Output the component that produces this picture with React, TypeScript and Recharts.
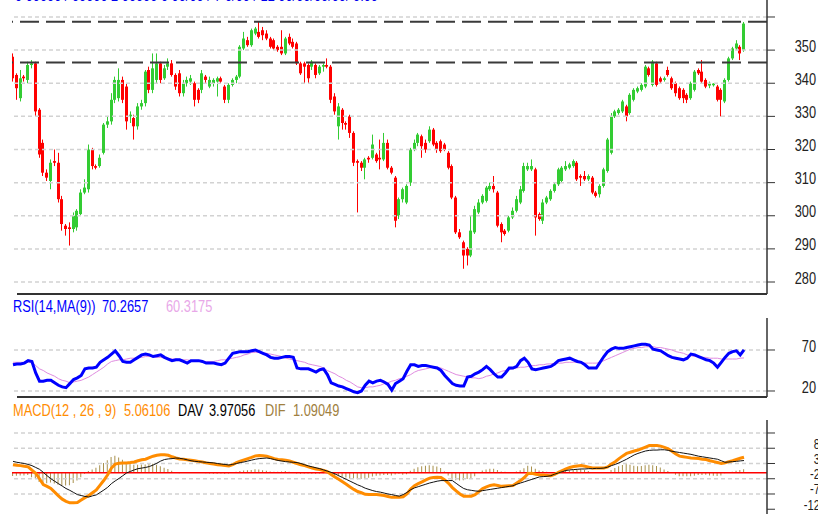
import { Bar, ComposedChart, Line, ReferenceLine, XAxis, YAxis } from 'recharts';

const FONT = "'Liberation Sans', Arial, sans-serif";
const RED = '#ff0000';
const GREEN = '#33cc33';
const GRID = '#d2d2d2';
const AXIS = '#333333';

// daily candles, oldest first
const opens = [
  348, 342.5, 335.5, 342, 341, 345.5, 346, 332, 322, 313,
  310.5, 316.5, 316, 305, 297, 296.5, 296, 296.5, 300.5, 307,
  308, 320, 315, 315, 319, 327.5, 328.5, 335, 335.5, 341,
  339, 330, 329.5, 327, 333, 334, 344, 338, 341, 346,
  341.5, 345, 346, 342.5, 343, 337, 340, 340.5, 340, 338,
  338, 342, 339, 340, 340.5, 341.5, 339, 335, 339.5, 341,
  342, 350.5, 353, 351.5, 355, 355.5, 356, 355, 353.5, 353,
  351, 351, 349, 354, 352.5, 352, 346, 346, 345.5, 345,
  345.5, 343, 345, 345.5, 345, 336, 327, 332, 328, 330,
  325, 316.5, 316, 314.5, 317.5, 317.5, 318.5, 317.5, 317, 322,
  314.5, 311.5, 300, 305, 304, 310, 320, 322, 324, 322,
  322.5, 326, 322, 322.5, 321.5, 319, 315, 305.5, 295, 292,
  290, 288, 295, 301, 304, 304.5, 308, 309, 307, 297.5,
  295.5, 295.5, 299.5, 301.5, 304, 307.5, 314, 314, 314, 300.5,
  298.5, 304, 305, 307.5, 309.5, 310.5, 314, 314.5, 315, 316,
  312, 312, 311, 311.5, 307, 306.5, 309, 313.5, 319, 330,
  331, 331.5, 333, 331, 335, 337.5, 338, 339, 344.5, 339.5,
  346, 341.5, 341, 344, 341.5, 340, 338.5, 338, 336.5, 335.5,
  338, 344, 343.5, 341, 339.3, 339.4, 339, 338, 334.5, 341,
  347.5, 350.5, 351, 350,
];
const highs = [
  349, 343, 344, 342.5, 346.5, 347, 346.5, 332.5, 323, 314,
  317, 320, 319, 306, 297.5, 298, 301, 302, 308, 311,
  321.5, 320.5, 315.5, 318.5, 328, 330, 337, 342, 344.5, 342,
  340, 331.5, 330.5, 334, 335, 344, 345, 349, 349, 346.5,
  345.5, 347.5, 347, 343, 344, 341, 342, 342.5, 340.5, 338.5,
  344, 342.5, 342, 341.5, 342, 342, 339.5, 340, 341.5, 342.5,
  351.5, 355.5, 354, 356.5, 357, 358.5, 357, 356, 354, 353.5,
  351.5, 356, 354, 355, 353.5, 352.5, 346.5, 346.5, 346, 347,
  346, 345.5, 346, 347.5, 345.5, 337, 334, 332.5, 328.5, 330.5,
  325.5, 317, 316.5, 317.5, 318, 324.5, 319, 323, 325, 323,
  315, 312, 305.5, 308.5, 309.5, 320.5, 323, 325, 324.5, 323,
  327, 326.5, 322.5, 323, 322, 319.5, 315.5, 306, 296, 292.5,
  290.5, 300, 303, 305, 306.5, 309, 310, 312, 307.5, 298,
  296, 300, 302.5, 306, 309, 316, 316, 317, 314.5, 301,
  305, 306, 308, 310, 314.5, 315, 316.5, 316, 317, 316.5,
  312.5, 313.5, 312.5, 312, 307.5, 309.5, 314.5, 323.5, 331, 332,
  332.5, 335, 333.5, 337, 338.5, 339, 340, 345.5, 345, 347,
  346.5, 342, 342, 345, 342, 340.5, 339, 338.5, 337, 340.5,
  344, 344.5, 347, 341.5, 340.5, 340, 339.5, 338.5, 341.5, 348,
  351, 353, 351.5, 358.5,
];
const lows = [
  340.5, 335, 334.5, 340.5, 340, 344.5, 330, 317.5, 312, 310.5,
  308, 315, 304, 295.5, 294, 291, 295, 295.5, 300, 306.5,
  307, 314, 314, 314.5, 318.5, 326.5, 327.5, 334, 334.5, 334,
  326, 328, 323, 326, 332, 333, 337, 337, 340, 340,
  341, 344, 342, 338, 336, 336, 339, 339.5, 333, 334,
  337, 340, 338.5, 339, 336, 340, 334, 334, 339, 340,
  341.5, 350, 351, 351, 354.5, 353.5, 353, 353, 350.5, 350,
  349.5, 348.5, 348.5, 351.5, 350.5, 345.5, 342.5, 340, 340, 344,
  341.5, 342.5, 343.5, 344.5, 334, 330.5, 323, 326, 326, 323.5,
  315, 301, 313.5, 311, 316, 317, 316, 314, 316.5, 314,
  312.5, 296.5, 299, 304, 303.5, 309, 319.5, 321, 317.5, 319,
  322, 321, 319, 319, 319.5, 314, 305, 294.5, 293, 284,
  285, 287.5, 294.5, 300.5, 303.5, 304, 307.5, 307, 296.5, 292,
  294, 295, 299, 301, 303.5, 307, 313.5, 313.5, 294, 298.5,
  297.5, 303.5, 304.5, 307, 309, 310, 313.5, 314, 314.5, 310.5,
  309, 310.5, 310.5, 306.5, 305.5, 305.5, 308.5, 313, 318.5, 329.5,
  330.5, 331, 328.5, 330.5, 334.5, 337, 337.5, 338.5, 342, 339,
  339, 340, 340.5, 342, 338, 336, 335, 334, 334, 335,
  337.5, 342.5, 340, 338.5, 338.5, 339, 334.5, 330, 334, 340.5,
  347, 350, 347, 349.5,
];
const closes = [
  341.5, 338.5, 341.5, 341.5, 345.5, 346, 331.5, 318.5, 313, 311.5,
  316, 316, 305, 297.5, 296, 296, 300, 301.5, 307, 308.5,
  320, 315, 314.5, 317.5, 327.5, 328.5, 335, 341, 341, 335,
  328.5, 330.5, 327, 333, 334, 343.5, 338, 344.5, 346, 341,
  344.5, 346, 342.5, 339, 337, 340, 341, 341.5, 335, 335,
  343, 341, 341, 341, 341.5, 340.5, 335, 339.5, 341, 342,
  351, 353.5, 351.5, 356, 356.5, 354, 354.5, 353.5, 351, 350.5,
  350, 349, 353.5, 352, 351, 346, 343, 345, 341.5, 346.5,
  342.5, 345, 345.5, 345, 335, 331.5, 333, 328, 327.5, 325,
  316, 316, 314.5, 317, 317, 321.5, 316.5, 317, 322, 314.5,
  313, 298.5, 305, 308, 309, 320, 322, 324.5, 321, 320,
  326, 321.5, 320, 319.5, 320, 314.5, 305.5, 295, 293.5, 288,
  288, 295.5, 302, 304, 306, 308.5, 309, 308, 297, 295,
  294.5, 299.5, 301.5, 305, 308, 315, 315, 315, 299.5, 299,
  304, 305.5, 307.5, 309.5, 314, 314.5, 315, 315.5, 316.5, 311,
  311.5, 311, 312, 307, 306, 309, 314, 323, 330, 331.5,
  332, 334.5, 330, 336.5, 338, 338.5, 339.5, 345, 342.5, 346.5,
  339.5, 340.5, 341.5, 342.5, 338.5, 337, 335.5, 335.5, 335, 340,
  343.5, 343, 340.5, 339, 339.8, 339.9, 335, 335, 341, 347.5,
  350.5, 352, 349, 358,
];

const rsi = [
  52, 53, 53, 54, 57, 56, 42, 32, 32, 33,
  33, 30, 27, 25, 24, 29, 34, 36, 39, 47,
  48, 48, 49, 55, 58, 61, 65, 69, 63, 56,
  55, 55, 58, 61, 64, 65, 64, 62, 63, 64,
  61, 59, 57, 58, 58, 56, 54, 57, 57, 57,
  56, 54, 54, 54, 53, 52, 54, 60, 66, 67,
  68, 68, 68, 69, 70, 68, 66, 64, 61, 60,
  60, 61, 62, 62, 61, 48, 47, 47, 47, 45,
  43, 46, 47, 40, 30, 28, 26, 25, 23, 21,
  19, 18, 20, 27, 32, 30, 32, 33, 31, 28,
  21, 29, 32, 35, 44, 52, 52, 50, 51, 51,
  50, 49, 48, 45, 39, 34, 29, 27, 26, 26,
  37, 38, 41, 43, 46, 50, 46, 41, 37, 37,
  42, 48, 48, 50, 57, 60, 55, 47, 46, 47,
  48, 49, 50, 53, 57, 58, 59, 60, 58, 56,
  55, 52, 48, 48, 48, 55, 62, 68, 71, 73,
  72, 72, 73, 74, 75, 76, 77, 77, 76, 71,
  70, 69, 66, 63, 61, 60, 59, 58, 60, 65,
  64, 62, 60, 58, 57, 54, 49, 55, 61, 66,
  68, 69, 64, 70.27,
];
const rsiMa = [
  55, 55, 55, 55, 55, 55, 51, 47, 45, 42,
  40, 38, 35, 33, 32, 30, 31, 32, 33, 35,
  37, 40, 43, 46, 49, 53, 56, 57, 58, 58,
  59, 60, 60, 61, 61, 62, 62, 62, 61, 61,
  60, 60, 59, 59, 58, 58, 58, 57, 57, 57,
  56, 56, 56, 56, 57, 58, 58, 59, 60, 61,
  62, 64, 65, 67, 67, 67, 66, 66, 65, 64,
  63, 62, 60, 59, 58, 57, 56, 55, 53, 52,
  51, 50, 48, 45, 43, 41, 38, 36, 33, 31,
  28, 25, 24, 24, 25, 25, 26, 27, 29, 30,
  32, 33, 35, 36, 38, 40, 43, 45, 46, 47,
  48, 49, 49, 48, 46, 44, 42, 40, 39, 38,
  37, 36, 36, 35, 36, 38, 39, 41, 42, 44,
  45, 46, 47, 48, 49, 49, 50, 51, 51, 52,
  52, 53, 53, 54, 54, 54, 55, 55, 55, 55,
  55, 54, 54, 54, 54, 55, 57, 59, 61, 63,
  65, 67, 69, 71, 72, 73, 73, 74, 74, 74,
  73, 73, 72, 71, 70, 68, 67, 66, 64, 63,
  62, 62, 61, 61, 60, 60, 60, 59, 59, 59,
  59, 59, 60, 60.32,
];

const macd = [
  2.6, 2.4, 2.3, 2.1, 1.9, 0.8, -0.2, -2, -3.9, -4.5,
  -5.2, -6.4, -7.6, -8.7, -9.4, -9.9, -9.9, -9.8, -9, -8.2,
  -7.5, -6.6, -5.7, -4.1, -2.5, -0.7, 1.5, 2.8, 3.1, 3.2,
  3.2, 3.3, 3.5, 3.9, 4.2, 4.4, 4.9, 5.4, 5.7, 5.9,
  5.9, 5.7, 5.2, 4.8, 4.5, 4.4, 4.2, 4.1, 3.9, 3.7,
  3.5, 3.2, 3, 2.8, 2.6, 2.5, 2.3, 2.2, 2.6, 3.3,
  3.8, 4.2, 4.6, 5, 5.5, 5.6, 5.5, 5.4, 5, 4.6,
  4.3, 4.2, 4.1, 3.8, 3.4, 3, 2.6, 2.3, 1.9, 1.5,
  1.2, 1, 0.7, 0.3, -0.6, -1.4, -2.2, -3, -3.8, -4.7,
  -5.5, -6.2, -6.6, -7.1, -7.2, -7.2, -7.2, -7.3, -7.5, -7.8,
  -8.1, -8.1, -8.1, -7.9, -7, -5.4, -4.3, -3.6, -3, -2.4,
  -1.8, -1.6, -1.5, -1.6, -2.4, -3.5, -4.9, -6, -7, -7.7,
  -7.7, -7.7, -7.2, -6.2, -5.2, -4.7, -4.2, -4, -4.2, -4.5,
  -4.4, -4.3, -4.2, -3.4, -2.6, -1.6, -0.3, -0.2, -0.5, -0.7,
  -0.8, -0.9, -1, -0.6, 0.1, 0.7, 1.2, 1.7, 2, 2.2,
  2.3, 2.1, 1.8, 1.5, 1.5, 1.5, 1.5, 1.9, 2.8, 3.6,
  4.6, 5.5, 6.3, 6.7, 7.1, 7.4, 7.9, 8.4, 8.9, 8.9,
  8.9, 8.7, 8.3, 7.8, 7, 6.1, 5.4, 5.2, 5, 4.8,
  4.7, 4.6, 4.4, 4.3, 3.9, 3.6, 3.3, 3, 3.2, 3.6,
  3.9, 4.3, 4.7, 5.06,
];
const dav = [
  3.7, 3.4, 3.2, 3, 2.7, 2.3, 1.7, 1.1, 0.1, -1,
  -2, -2.8, -3.6, -4.4, -5.2, -5.8, -6.5, -7.2, -7.5, -7.8,
  -8, -7.6, -7.3, -6.5, -5.7, -4.8, -3.6, -2.7, -1.9, -1,
  -0.1, 0.4, 0.9, 1.3, 1.5, 1.7, 2, 2.5, 3.1, 3.8,
  4.3, 4.5, 4.6, 4.8, 4.7, 4.5, 4.2, 3.9, 3.7, 3.6,
  3.5, 3.4, 3.3, 3.2, 3, 2.8, 2.7, 2.5, 2.7, 3,
  3.3, 3.5, 3.8, 4.1, 4.4, 4.6, 4.7, 4.8, 4.6, 4.3,
  4, 3.8, 3.6, 3.5, 3.4, 3.3, 3, 2.6, 2.2, 1.9,
  1.6, 1.3, 0.9, 0.5, 0.1, -0.4, -1, -1.6, -2.2, -2.8,
  -3.4, -4, -4.5, -5.1, -5.5, -5.9, -6.2, -6.4, -6.7, -7,
  -7.2, -7.5, -7.7, -7.2, -6.5, -5.6, -5, -4.6, -4.2, -3.8,
  -3.4, -3.1, -2.8, -2.6, -2.6, -2.6, -2.6, -3.5, -4.4, -5.2,
  -5.6, -5.8, -6, -6.1, -5.9, -5.7, -5.5, -5.3, -5.1, -4.9,
  -4.7, -4.5, -4.3, -3.8, -3.4, -3, -2.6, -2.2, -1.8, -1.4,
  -1.3, -1.2, -1, -0.5, -0.1, 0.3, 0.7, 0.9, 1, 1.1,
  1.2, 1.2, 1.3, 1.3, 1.4, 1.4, 1.5, 1.8, 2.3, 2.7,
  3.2, 3.8, 4.4, 5.1, 5.8, 6.3, 6.7, 7.1, 7.3, 7.4,
  7.4, 7.5, 7.5, 7.3, 7, 6.8, 6.6, 6.4, 6.2, 6,
  5.7, 5.4, 5.2, 5, 4.8, 4.6, 4.4, 3.9, 3.4, 3.5,
  3.6, 3.7, 3.85, 3.97,
];
const dif = [
  -1.1, -1, -0.9, -0.9, -0.8, -1.5, -1.9, -3.1, -4, -3.5,
  -3.2, -3.6, -4, -4.3, -4.2, -4.1, -3.4, -2.6, -1.5, -0.4,
  0.5, 1, 1.6, 2.4, 3.2, 4.1, 5.1, 5.5, 5, 4.2,
  3.3, 2.9, 2.6, 2.6, 2.7, 2.7, 2.9, 2.9, 2.6, 2.1,
  1.6, 1.2, 0.6, 0, -0.2, -0.1, 0, 0.2, 0.2, 0.1,
  0, -0.2, -0.3, -0.4, -0.4, -0.3, -0.4, -0.3, -0.1, 0.3,
  0.5, 0.7, 0.8, 0.9, 1.1, 1, 0.8, 0.6, 0.4, 0.3,
  0.3, 0.4, 0.5, 0.3, 0, -0.3, -0.4, -0.3, -0.3, -0.4,
  -0.4, -0.3, -0.2, -0.2, -0.7, -1, -1.2, -1.4, -1.6, -1.9,
  -2.1, -2.2, -2.1, -2, -1.7, -1.3, -1, -0.9, -0.8, -0.8,
  -0.9, -0.6, -0.4, -0.7, -0.5, 0.6, 1.3, 1.8, 2.1, 2.3,
  2.4, 2.3, 2, 1.5, 0.4, -0.9, -2.3, -2.5, -2.6, -2.5,
  -2.1, -1.9, -1.2, -0.1, 0.7, 1, 1.3, 1.3, 0.9, 0.4,
  0.3, 0.2, 0.1, 0.4, 0.8, 1.4, 2.3, 2, 1.3, 0.7,
  0.5, 0.3, 0, -0.1, 0.2, 0.4, 0.5, 0.8, 1, 1.1,
  1.1, 0.9, 0.5, 0.2, 0.1, 0.1, 0, 0.1, 0.9, 1.5,
  2.1, 2.5, 2.8, 2.6, 2.3, 2.1, 2.2, 2.4, 2.6, 2.4,
  2.2, 1.7, 1, 0.5, 0, -0.7, -1.2, -1.2, -1.2, -1.2,
  -1, -0.8, -0.8, -0.7, -0.9, -1, -1.1, -0.9, -0.2, 0.1,
  0.3, 0.6, 0.85, 1.09,
];

const priceTicks = [280, 290, 300, 310, 320, 330, 340, 350, 360];
const rsiTicks = [20, 70];
const macdTicks = [-12, -7, -2, 3, 8, 13];
const resistance = [358.6, 346.3];

const data = closes.map((c, i) => ({
  i, open: opens[i], high: highs[i], low: lows[i], close: c,
  rsi: rsi[i], rsiMa: rsiMa[i], macd: macd[i], dav: dav[i], dif: dif[i],
}));

const X_DOMAIN: [number, number] = [-0.26, 199.07];

function Candle(props: any) {
  const { x, y, width, height, payload } = props;
  if (x == null || !payload) return null;
  const { open, close, high, low } = payload;
  const color = close >= open ? GREEN : RED;
  const top = height < 0 ? y + height : y;
  const h = Math.abs(height);
  const k = high === low ? 0 : h / (high - low);
  const bTop = top + (high - Math.max(open, close)) * k;
  const bBot = top + (high - Math.min(open, close)) * k;
  const bx = Math.round(x + width / 2 - 1.5);
  return (
    <g>
      <line x1={bx + 1.5} x2={bx + 1.5} y1={top} y2={top + h} stroke={color} strokeWidth={1} />
      <rect x={bx} y={bTop} width={3} height={Math.max(1, bBot - bTop)} fill={color} />
    </g>
  );
}

// narrow axis labels, right aligned against the edge
const tick = (hide: number[], right: number, size: number) => (p: any) => {
  const v = p.payload.value;
  if (hide.includes(v)) return <g />;
  return (
    <text transform={`translate(${right},${p.y - 4}) scale(0.8,1)`} textAnchor="end" dominantBaseline="central"
      fontSize={size} fontFamily={FONT} fill="#222">{v}</text>
  );
};

const label = (left: number, top: number, color: string, text: string) => (
  <div style={{
    position: 'absolute', left, top, color, fontSize: 16, lineHeight: '18px', whiteSpace: 'nowrap',
    fontFamily: FONT, transform: 'scaleX(0.8)', transformOrigin: 'left center',
  }}>{text}</div>
);

export default function App() {
  return (
    <div style={{ position: 'absolute', left: 0, top: 0, width: 818, height: 514, background: '#fff', overflow: 'hidden' }}>
      {label(15, -13, '#0000ee', '0 00000 / 00000 2 00000 0 00/00 / 7 0/00 / 12 00/00/00/00/ 0.00')}

      <div style={{ position: 'absolute', left: 0, top: 0 }}>
        <ComposedChart width={818} height={294} data={data} margin={{ top: 0, right: 0, bottom: 0, left: 12 }}>
          <XAxis dataKey="i" type="number" domain={X_DOMAIN} hide allowDataOverflow />
          <YAxis orientation="right" width={51} type="number" domain={[276.38, 365.13]} allowDataOverflow
            ticks={priceTicks} interval={0} tickSize={8} tickLine={{ stroke: AXIS }}
            axisLine={{ stroke: AXIS, strokeWidth: 1.5 }} tick={tick([360], 816, 16)} />
          {priceTicks.map((v) => (
            <ReferenceLine key={v} y={v} stroke={GRID} strokeWidth={1.5} strokeDasharray="4 3" />
          ))}
          <Bar dataKey={(d: any) => [d.low, d.high]} barSize={3} shape={<Candle />} isAnimationActive={false} />
          {resistance.map((v) => (
            <ReferenceLine key={v} y={v} stroke="#3a3a3a" strokeWidth={2} strokeDasharray="19 7" />
          ))}
        </ComposedChart>
      </div>
      <div style={{ position: 'absolute', left: 17, top: 293, width: 750, height: 2, background: AXIS }} />

      {label(13, 298, '#0000ff', 'RSI(14,MA(9))')}
      {label(102, 298, '#0000ff', '70.2657')}
      {label(166, 298, '#e8a8e8', '60.3175')}
      <div style={{ position: 'absolute', left: 0, top: 318 }}>
        <ComposedChart width={818} height={79} data={data} margin={{ top: 0, right: 0, bottom: 0, left: 12 }}>
          <XAxis dataKey="i" type="number" domain={X_DOMAIN} hide allowDataOverflow />
          <YAxis orientation="right" width={51} type="number" domain={[12.68, 109]} allowDataOverflow
            ticks={rsiTicks} interval={0} tickSize={8} tickLine={{ stroke: AXIS }}
            axisLine={{ stroke: AXIS, strokeWidth: 1.5 }} tick={tick([], 816, 16)} />
          {rsiTicks.map((v) => (
            <ReferenceLine key={v} y={v} stroke={GRID} strokeWidth={1.5} strokeDasharray="4 3" />
          ))}
          <Line dataKey="rsiMa" stroke="#e08ce0" strokeWidth={1} dot={false} isAnimationActive={false} />
          <Line dataKey="rsi" stroke="#0000ff" strokeWidth={3} dot={false} isAnimationActive={false} />
        </ComposedChart>
      </div>
      <div style={{ position: 'absolute', left: 17, top: 396, width: 750, height: 2, background: AXIS }} />

      {label(13, 402, '#ff8c00', 'MACD(12 , 26 , 9)')}
      {label(124, 402, '#ff8c00', '5.06106')}
      {label(178, 402, '#000000', 'DAV')}
      {label(209, 402, '#000000', '3.97056')}
      {label(265, 402, '#a08040', 'DIF')}
      {label(293, 402, '#a08040', '1.09049')}
      <div style={{ position: 'absolute', left: 0, top: 420 }}>
        <ComposedChart width={818} height={94} data={data} margin={{ top: 0, right: 0, bottom: 0, left: 12 }}>
          <XAxis dataKey="i" type="number" domain={X_DOMAIN} hide allowDataOverflow />
          <YAxis orientation="right" width={51} type="number" domain={[-13.56, 17.26]} allowDataOverflow
            ticks={macdTicks} interval={0} tickSize={8} tickLine={{ stroke: AXIS }}
            axisLine={{ stroke: AXIS, strokeWidth: 1.5 }} tick={tick([13], 820, 14)} />
          {macdTicks.filter((v) => v > -12).map((v) => (
            <ReferenceLine key={v} y={v} stroke={GRID} strokeWidth={1.5} strokeDasharray="4 3" />
          ))}
          <Bar dataKey="dif" barSize={1} fill="#a8904c" isAnimationActive={false} />
          <ReferenceLine y={0} stroke="#ff0000" strokeWidth={1.5} />
          <Line dataKey="macd" stroke="#ff8c00" strokeWidth={3} dot={false} isAnimationActive={false} />
          <Line dataKey="dav" stroke="#111" strokeWidth={1} dot={false} isAnimationActive={false} />
        </ComposedChart>
      </div>
    </div>
  );
}
